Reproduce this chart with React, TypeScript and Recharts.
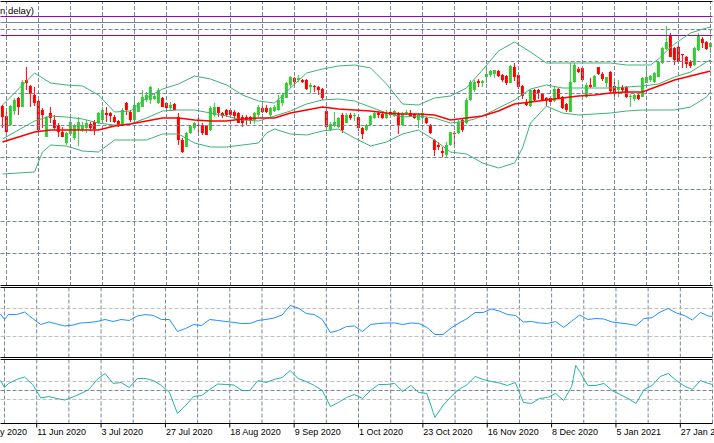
import { Bar, ComposedChart, Line, ReferenceLine, XAxis, YAxis } from "recharts";

// daily candles, price in points
const opens = [
  1179, 1169, 1160, 1174, 1187, 1178, 1205, 1199, 1190, 1184,
  1175, 1148, 1172, 1165, 1160, 1153, 1142, 1151, 1147, 1155,
  1155, 1157, 1161, 1163, 1162, 1165, 1172, 1172, 1168, 1164,
  1160, 1182, 1173, 1165, 1173, 1178, 1185, 1185, 1186, 1182,
  1187, 1182, 1177, 1181, 1168, 1145, 1138, 1152, 1157, 1160,
  1160, 1160, 1155, 1170, 1178, 1172, 1175, 1175, 1173, 1172,
  1168, 1168, 1168, 1165, 1170, 1177, 1177, 1170, 1174, 1175,
  1182, 1187, 1200, 1207, 1205, 1205, 1205, 1198, 1199, 1198,
  1196, 1174, 1155, 1159, 1158, 1170, 1162, 1170, 1169, 1168,
  1157, 1155, 1160, 1167, 1172, 1171, 1167, 1173, 1169, 1172,
  1160, 1172, 1172, 1171, 1165, 1167, 1167, 1160, 1145, 1140,
  1134, 1130, 1140, 1152, 1152, 1165, 1162, 1185, 1195, 1204,
  1202, 1208, 1210, 1211, 1214, 1210, 1209, 1202, 1218, 1210,
  1199, 1183, 1179, 1195, 1195, 1192, 1187, 1187, 1184, 1196,
  1188, 1181, 1173, 1203, 1216, 1217, 1188, 1200, 1198, 1218,
  1211, 1202, 1213, 1199, 1195, 1198, 1198, 1188, 1186, 1190,
  1188, 1202, 1205, 1203, 1208, 1222, 1236, 1250, 1237, 1238,
  1231, 1228, 1223, 1220, 1235, 1246, 1243, 1238,
];
const highs = [
  1180, 1175, 1180, 1187, 1188, 1205, 1218, 1200, 1198, 1185,
  1177, 1169, 1178, 1170, 1162, 1158, 1153, 1167, 1161, 1168,
  1163, 1165, 1163, 1165, 1173, 1178, 1178, 1173, 1170, 1165,
  1177, 1183, 1175, 1187, 1183, 1195, 1193, 1199, 1192, 1197,
  1188, 1183, 1183, 1182, 1172, 1147, 1153, 1160, 1163, 1168,
  1162, 1160, 1179, 1182, 1178, 1173, 1176, 1177, 1175, 1173,
  1170, 1170, 1169, 1173, 1180, 1180, 1180, 1178, 1180, 1190,
  1192, 1203, 1209, 1208, 1210, 1206, 1206, 1202, 1200, 1199,
  1197, 1176, 1163, 1173, 1168, 1172, 1172, 1172, 1172, 1168,
  1158, 1161, 1170, 1173, 1174, 1172, 1175, 1174, 1175, 1173,
  1173, 1175, 1175, 1172, 1172, 1173, 1168, 1161, 1146, 1143,
  1138, 1143, 1153, 1154, 1165, 1167, 1187, 1205, 1205, 1206,
  1205, 1218, 1215, 1215, 1215, 1211, 1210, 1220, 1222, 1211,
  1200, 1186, 1196, 1196, 1196, 1192, 1188, 1188, 1198, 1197,
  1189, 1182, 1222, 1222, 1218, 1218, 1202, 1207, 1210, 1218,
  1213, 1208, 1214, 1205, 1205, 1200, 1199, 1191, 1191, 1192,
  1208, 1217, 1210, 1213, 1224, 1238, 1259, 1252, 1238, 1242,
  1231, 1229, 1225, 1238, 1252, 1248, 1244, 1242,
];
const lows = [
  1157, 1148, 1159, 1170, 1170, 1178, 1195, 1178, 1179, 1152,
  1157, 1148, 1162, 1155, 1148, 1148, 1140, 1149, 1145, 1139,
  1153, 1152, 1154, 1150, 1161, 1163, 1163, 1163, 1162, 1158,
  1159, 1170, 1163, 1163, 1173, 1178, 1183, 1181, 1185, 1181,
  1178, 1176, 1175, 1175, 1140, 1132, 1138, 1151, 1155, 1153,
  1150, 1150, 1154, 1168, 1168, 1167, 1168, 1167, 1166, 1162,
  1158, 1160, 1161, 1161, 1168, 1172, 1172, 1167, 1173, 1174,
  1179, 1187, 1197, 1200, 1203, 1202, 1195, 1192, 1193, 1190,
  1185, 1154, 1154, 1158, 1157, 1152, 1162, 1165, 1164, 1154,
  1146, 1154, 1159, 1166, 1167, 1166, 1166, 1168, 1168, 1151,
  1159, 1170, 1168, 1166, 1157, 1165, 1161, 1151, 1129, 1135,
  1128, 1127, 1139, 1138, 1151, 1153, 1161, 1184, 1193, 1198,
  1198, 1202, 1208, 1207, 1208, 1203, 1200, 1202, 1204, 1196,
  1186, 1179, 1178, 1183, 1186, 1184, 1179, 1181, 1183, 1186,
  1176, 1173, 1173, 1202, 1212, 1203, 1187, 1197, 1198, 1210,
  1204, 1198, 1192, 1188, 1188, 1193, 1187, 1178, 1184, 1185,
  1188, 1202, 1203, 1202, 1208, 1221, 1235, 1228, 1220, 1222,
  1217, 1217, 1217, 1219, 1234, 1237, 1235, 1232,
];
const closes = [
  1168, 1153, 1179, 1185, 1178, 1203, 1202, 1191, 1182, 1155,
  1170, 1168, 1167, 1157, 1153, 1148, 1152, 1163, 1159, 1163,
  1160, 1162, 1157, 1156, 1172, 1175, 1170, 1169, 1163, 1159,
  1175, 1175, 1165, 1180, 1182, 1188, 1190, 1198, 1189, 1195,
  1178, 1177, 1180, 1175, 1145, 1133, 1152, 1159, 1162, 1159,
  1152, 1150, 1177, 1178, 1172, 1169, 1170, 1170, 1169, 1162,
  1162, 1165, 1164, 1172, 1178, 1173, 1173, 1177, 1178, 1185,
  1190, 1202, 1208, 1203, 1207, 1203, 1196, 1200, 1198, 1195,
  1187, 1158, 1161, 1163, 1167, 1155, 1170, 1167, 1170, 1157,
  1151, 1160, 1169, 1172, 1170, 1167, 1172, 1170, 1174, 1160,
  1172, 1173, 1169, 1167, 1170, 1172, 1162, 1152, 1135, 1138,
  1132, 1140, 1153, 1151, 1163, 1155, 1185, 1203, 1203, 1202,
  1204, 1211, 1214, 1215, 1209, 1205, 1202, 1219, 1208, 1198,
  1189, 1180, 1195, 1185, 1192, 1185, 1185, 1183, 1196, 1187,
  1177, 1175, 1203, 1220, 1213, 1205, 1200, 1198, 1209, 1211,
  1206, 1208, 1194, 1193, 1198, 1195, 1188, 1189, 1190, 1186,
  1207, 1208, 1209, 1212, 1223, 1237, 1243, 1228, 1225, 1223,
  1230, 1221, 1219, 1237, 1249, 1242, 1236, 1242,
];

// date labels on the time axis (bar index, text)
const tickBars = [9, 25, 41, 57, 73, 89, 105, 121, 137, 153, 169];
const tickLabels = [
  "11 Jun 2020", "3 Jul 2020", "27 Jul 2020", "18 Aug 2020", "9 Sep 2020", "1 Oct 2020",
  "23 Oct 2020", "16 Nov 2020", "8 Dec 2020", "5 Jan 2021", "27 Jan 2021",
];

// indicator lines, read as [bar, value]
const upperBand: [number, number][] = [
  [0, 1180], [4, 1196], [8, 1212], [10, 1207], [12, 1202], [16, 1200], [20, 1199], [24, 1190],
  [28, 1173], [32, 1174], [36, 1187], [40, 1196], [44, 1201], [48, 1209], [52, 1206], [56, 1200],
  [60, 1190], [64, 1184], [68, 1182], [72, 1197], [76, 1212], [80, 1216], [84, 1219], [88, 1220],
  [92, 1217], [96, 1201], [100, 1181], [104, 1180], [108, 1187], [112, 1189], [116, 1197], [120, 1215],
  [124, 1234], [128, 1243], [132, 1233], [136, 1222], [140, 1222], [144, 1222], [148, 1222], [152, 1222],
  [156, 1220], [160, 1220], [162, 1220], [164, 1226], [166, 1234], [168, 1241], [172, 1252], [176, 1257],
  [177, 1258],
];
const middleBand: [number, number][] = [
  [0, 1146], [4, 1155], [8, 1164], [12, 1169], [16, 1168], [20, 1166], [24, 1162], [28, 1160],
  [32, 1161], [36, 1167], [40, 1174], [44, 1175], [48, 1175], [52, 1172], [56, 1169], [60, 1165],
  [64, 1164], [68, 1169], [72, 1174], [76, 1181], [80, 1185], [84, 1186], [88, 1184], [92, 1178],
  [96, 1172], [100, 1168], [104, 1169], [108, 1167], [112, 1162], [116, 1164], [118, 1166], [120, 1169],
  [124, 1177], [128, 1185], [132, 1196], [136, 1200], [140, 1197], [144, 1197], [148, 1197], [152, 1197],
  [156, 1198], [160, 1199], [164, 1201], [168, 1208], [172, 1213], [176, 1223], [177, 1225],
];
const lowerBand: [number, number][] = [
  [0, 1111], [4, 1112], [8, 1113], [10, 1133], [12, 1140], [16, 1139], [20, 1134], [24, 1133],
  [28, 1145], [32, 1145], [36, 1145], [40, 1151], [44, 1151], [48, 1142], [52, 1138], [56, 1138],
  [60, 1140], [64, 1142], [66, 1152], [68, 1156], [72, 1151], [76, 1150], [80, 1154], [84, 1156],
  [88, 1147], [92, 1139], [96, 1143], [100, 1151], [104, 1155], [108, 1145], [112, 1133], [116, 1131],
  [120, 1122], [124, 1117], [128, 1122], [130, 1137], [132, 1162], [136, 1179], [140, 1172], [144, 1170],
  [148, 1171], [152, 1172], [156, 1174], [160, 1175], [164, 1175], [168, 1175], [172, 1178], [176, 1188],
  [177, 1193],
];
const movingAverage: [number, number][] = [
  [0, 1143], [4, 1148], [8, 1153], [12, 1155], [16, 1155], [20, 1155], [24, 1155], [28, 1159],
  [32, 1161], [36, 1164], [40, 1167], [44, 1167], [48, 1165], [52, 1164], [56, 1164], [60, 1166],
  [64, 1167], [68, 1167], [72, 1172], [76, 1175], [80, 1178], [84, 1176], [88, 1175], [92, 1174],
  [96, 1172], [100, 1171], [104, 1171], [108, 1170], [112, 1165], [116, 1167], [120, 1169], [124, 1174],
  [128, 1181], [132, 1183], [136, 1185], [140, 1187], [144, 1189], [148, 1190], [152, 1192], [156, 1193],
  [160, 1193], [164, 1199], [168, 1205], [172, 1209], [176, 1213], [177, 1214],
];
const rsi: [number, number][] = [
  [0, 62.1], [1, 54.3], [2, 61.4], [4, 61.4], [6, 65.0], [8, 55.7], [10, 47.1], [12, 50.7], [14, 47.9],
  [16, 45.0], [18, 46.4], [20, 49.3], [22, 50.0], [24, 51.4], [26, 54.3], [28, 51.4], [30, 54.3],
  [32, 52.9], [34, 59.3], [36, 61.4], [38, 60.0], [40, 54.3], [42, 54.3], [44, 37.1], [46, 41.4],
  [48, 47.1], [50, 45.7], [52, 54.3], [54, 52.9], [56, 51.4], [58, 50.0], [60, 48.6], [62, 48.6],
  [64, 52.9], [66, 54.3], [68, 56.4], [70, 60.7], [72, 74.3], [74, 70.7], [76, 62.9], [78, 61.4],
  [80, 54.3], [82, 35.7], [84, 38.6], [86, 44.3], [88, 45.0], [90, 37.1], [92, 47.1], [94, 48.6],
  [96, 49.3], [98, 49.3], [100, 47.1], [102, 49.3], [104, 48.6], [106, 42.9], [108, 32.9], [110, 32.9],
  [112, 42.1], [114, 49.3], [116, 55.7], [118, 64.3], [120, 64.3], [122, 69.3], [124, 66.4], [126, 61.4],
  [128, 60.0], [130, 50.7], [132, 51.4], [134, 49.3], [136, 48.6], [138, 51.4], [140, 42.9], [142, 52.1],
  [144, 60.7], [146, 54.3], [148, 55.7], [150, 55.0], [152, 50.7], [154, 49.3], [156, 47.9], [158, 45.7],
  [160, 55.7], [162, 56.9], [164, 65.0], [166, 70.0], [168, 63.6], [170, 60.0], [172, 53.6], [174, 64.3],
  [176, 59.3], [177, 58.6],
];
const cci: [number, number][] = [
  [0, 111], [1, 33], [2, 78], [4, 122], [6, 150], [8, 67], [10, -83], [12, -67], [14, -89],
  [16, -106], [18, -72], [20, -33], [22, 11], [24, 122], [26, 189], [28, 78], [30, 89],
  [32, 33], [34, 133], [36, 133], [38, 111], [40, 56], [42, -22], [44, -256], [46, -167],
  [48, -67], [50, -56], [52, 11], [54, 72], [56, 67], [58, 61], [60, 0], [62, 0],
  [64, 111], [66, 89], [68, 122], [70, 144], [72, 222], [74, 133], [76, 100], [78, 56],
  [80, 0], [82, -178], [84, -133], [86, -78], [88, -44], [90, -89], [92, 0], [94, 67],
  [96, 67], [98, 78], [100, -11], [102, 56], [104, -22], [106, -33], [108, -300], [110, -167],
  [112, -67], [114, 11], [116, 67], [118, 156], [120, 122], [122, 100], [124, 83], [126, 56],
  [128, 89], [130, -133], [132, -144], [134, -89], [136, -78], [138, -33], [140, -111], [142, 44],
  [143, 278], [144, 211], [146, 56], [148, 56], [150, 78], [152, 0], [154, -44], [156, -89],
  [158, -144], [160, 11], [162, 56], [164, 156], [166, 189], [168, 111], [170, 50], [172, 11],
  [174, 111], [176, 78], [177, 67],
];

// horizontal levels drawn on the price panel
const priceGrid = [1255.5, 1223.5, 1191.5, 1159.5, 1127.5, 1095.5, 1063.5, 1031.5];
const violetLevels = [1268.5, 1249.5];
const greyLevel = 1262.5;

const GREEN = "#32CD32";
const RED = "#FF0000";
const BAND = "#3CB371";
const GRID = "#778899";
const LEVEL = "#C0C0C0";
const FONT = "'Liberation Sans', Arial, sans-serif";

const gridBars = Array.from({ length: 23 }, (_, k) => 1 + 8 * k);

const upperMap = new Map(upperBand);
const middleMap = new Map(middleBand);
const lowerMap = new Map(lowerBand);
const maMap = new Map(movingAverage);
const rsiMap = new Map(rsi);
const cciMap = new Map(cci);

const rows = opens.map((open, i) => ({
  bar: i,
  open,
  high: highs[i],
  low: lows[i],
  close: closes[i],
  range: [lows[i], highs[i]],
  upper: upperMap.get(i) ?? null,
  middle: middleMap.get(i) ?? null,
  lower: lowerMap.get(i) ?? null,
  ma: maMap.get(i) ?? null,
  rsi: rsiMap.get(i) ?? null,
  cci: cciMap.get(i) ?? null,
}));

function Candle(props: any) {
  const { x, y, width, height, payload } = props;
  const { open, close, high, low } = payload;
  const top = Math.min(y, y + height);
  const h = Math.abs(height);
  const k = high === low ? 0 : h / (high - low);
  const yOf = (v: number) => top + (high - v) * k;
  const color = close >= open ? GREEN : RED;
  const cx = x + width / 2;
  const bTop = yOf(Math.max(open, close));
  const bBot = yOf(Math.min(open, close));
  return (
    <g>
      <line x1={cx} x2={cx} y1={top} y2={top + h} stroke={color} strokeWidth={1} />
      <rect x={cx - 1.5} y={bTop} width={3} height={Math.max(bBot - bTop, 1)} fill={color} />
    </g>
  );
}

function DateTick(props: any) {
  const { x, y, payload } = props;
  const k = tickBars.indexOf(payload.value);
  if (k < 0) return <g />;
  return (
    <g>
      <line x1={x} x2={x} y1={y} y2={y + 4} stroke="#000" />
      <text x={x + 0.5} y={y + 11} fontSize={9} fontFamily={FONT} fill="#000" textAnchor="start">
        {tickLabels[k]}
      </text>
    </g>
  );
}

const vGrid = gridBars.map((b) => (
  <ReferenceLine key={"v" + b} x={b} stroke={GRID} strokeDasharray="4 2" />
));

export default function App() {
  return (
    <div style={{ position: "absolute", left: 0, top: 0, width: 714, height: 443, background: "#fff", overflow: "hidden" }}>
      <div style={{ position: "absolute", left: 0, top: 0 }}>
        <ComposedChart width={714} height={286} data={rows} margin={{ top: 1, right: 1.5, bottom: 0, left: 0.5 }}>
          <XAxis dataKey="bar" hide />
          <YAxis hide domain={[999, 1284]} allowDataOverflow />
          {vGrid}
          {priceGrid.map((v) => (
            <ReferenceLine key={"h" + v} y={v} stroke={GRID} strokeDasharray="4 2" />
          ))}
          <ReferenceLine y={greyLevel} stroke={GRID} />
          {violetLevels.map((v) => (
            <ReferenceLine key={"p" + v} y={v} stroke="#9400D3" />
          ))}
          <ReferenceLine y={1283.5} stroke="#000" />
          <ReferenceLine y={999.5} stroke="#000" />
          <Bar dataKey="range" shape={(p: any) => <Candle {...p} />} isAnimationActive={false} />
          <Line dataKey="upper" stroke={BAND} strokeWidth={1} dot={false} activeDot={false} connectNulls isAnimationActive={false} />
          <Line dataKey="middle" stroke={BAND} strokeWidth={1} dot={false} activeDot={false} connectNulls isAnimationActive={false} />
          <Line dataKey="lower" stroke={BAND} strokeWidth={1} dot={false} activeDot={false} connectNulls isAnimationActive={false} />
          <Line dataKey="ma" stroke={RED} strokeWidth={1.6} dot={false} activeDot={false} connectNulls isAnimationActive={false} />
        </ComposedChart>
      </div>
      <div style={{ position: "absolute", left: 0, top: 286 }}>
        <ComposedChart width={714} height={73} data={rows} margin={{ top: 1.5, right: 1.5, bottom: 1.5, left: 0.5 }}>
          <XAxis dataKey="bar" hide />
          <YAxis hide domain={[0, 100]} allowDataOverflow />
          {vGrid}
          <ReferenceLine y={70} stroke={LEVEL} strokeDasharray="4 2" />
          <ReferenceLine y={30} stroke={LEVEL} strokeDasharray="4 2" />
          <ReferenceLine y={100} stroke="#000" />
          <ReferenceLine y={0} stroke="#000" />
          <Line dataKey="rsi" stroke="#1E90FF" strokeWidth={1} dot={false} activeDot={false} connectNulls isAnimationActive={false} />
        </ComposedChart>
      </div>
      <div style={{ position: "absolute", left: 0, top: 359 }}>
        <ComposedChart width={714} height={84} data={rows} margin={{ top: 0.5, right: 1.5, bottom: 0, left: 0.5 }}>
          <XAxis
            dataKey="bar"
            height={19.5}
            interval={0}
            tickLine={false}
            tickSize={0}
            tickMargin={0}
            axisLine={{ stroke: "#000" }}
            tick={(p: any) => <DateTick {...p} />}
          />
          <YAxis hide domain={[-366.67, 344.44]} allowDataOverflow />
          {vGrid}
          <ReferenceLine y={100} stroke={LEVEL} strokeDasharray="4 2" />
          <ReferenceLine y={-100} stroke={LEVEL} strokeDasharray="4 2" />
          <ReferenceLine y={0} stroke={GRID} strokeDasharray="4 2" />
          <ReferenceLine y={344.44} stroke="#000" />
          <Line dataKey="cci" stroke="#20B2AA" strokeWidth={1} dot={false} activeDot={false} connectNulls isAnimationActive={false} />
        </ComposedChart>
      </div>
      <svg width={714} height={443} style={{ position: "absolute", left: 0, top: 0, pointerEvents: "none" }}>
        <text x={0} y={13.5} fontSize={9.5} fontFamily={FONT} fill="#000">n delay)</text>
        <text x={-25} y={434.5} fontSize={9} fontFamily={FONT} fill="#000">20 May 2020</text>
      </svg>
    </div>
  );
}
